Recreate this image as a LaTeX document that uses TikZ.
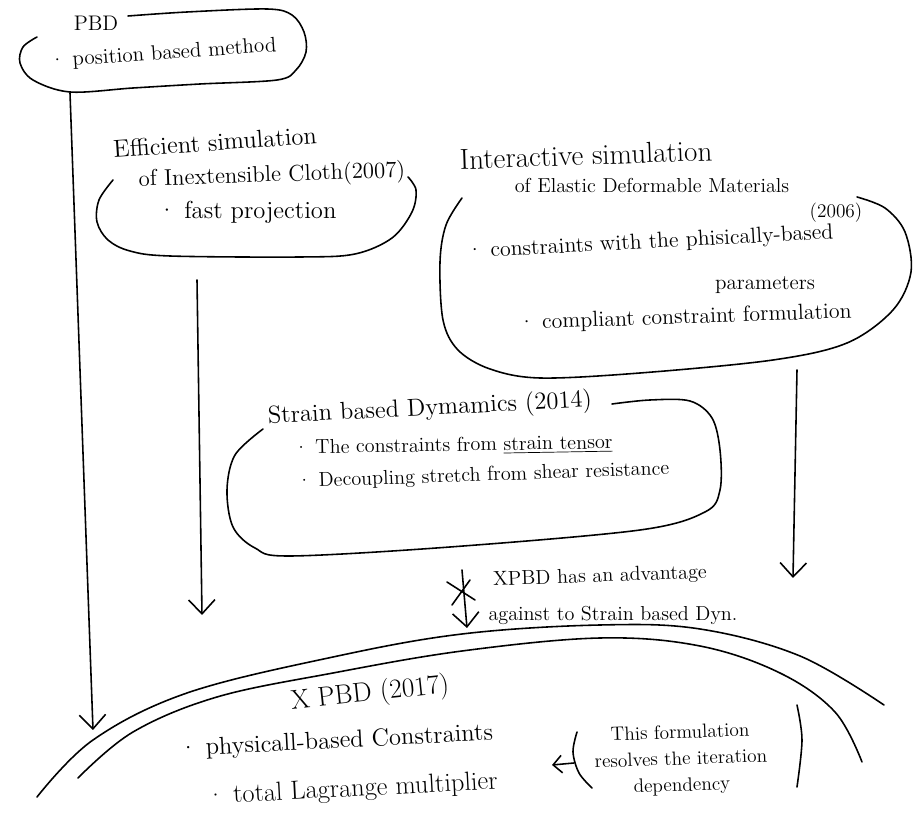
\documentclass[tikz,border=0pt]{standalone}
\usetikzlibrary{arrows.meta}
\begin{document}
\begin{tikzpicture}[x=0.02cm,y=-0.02cm,line width=0.9pt,line cap=round,line join=round,
		blob/.style={smooth,tension=0.55},
		flow/.style={-{Straight Barb[length=8pt,width=15pt]}},
		head/.style={font=\fontsize{14}{17}\selectfont,inner sep=0pt},
		item/.style={font=\fontsize{12}{15}\selectfont,inner sep=0pt},
		memo/.style={font=\fontsize{11}{15}\selectfont,inner sep=0pt,align=center}]
		\useasboundingbox (0,0) rectangle (924,827);
		\draw plot[blob] coordinates {(128,16) (187,12) (267,9) (292,15) (304,32) (306,52) (296,70) (277,80) (200,84) (133,88) (70,92) (33,80) (20,63) (23,47) (37,37)};
		\draw plot[blob] coordinates {(113,180) (99,200) (97,222) (108,240) (130,251) (170,256) (300,257) (355,254) (392,238) (412,212) (416,190) (408,177)};
		\draw plot[blob] coordinates {(462,198) (446,225) (440,262) (443,320) (458,350) (490,369) (540,378) (640,373) (773,360) (847,343) (893,310) (911,272) (905,232) (885,208) (857,197)};
		\draw plot[blob] coordinates {(612,404) (650,400) (690,401) (712,418) (720,450) (720,490) (705,512) (640,530) (450,547) (290,556) (255,548) (233,527) (227,490) (235,455) (263,429)};
		\draw plot[smooth,tension=0.6] coordinates {(37,797) (93,740) (187,693) (333,657) (462,634) (600,625) (700,629) (800,656) (884,705)};
		\draw plot[smooth,tension=0.6] coordinates {(78,778) (133,732) (217,697) (333,673) (462,651) (600,638) (700,646) (780,673) (835,712) (862,762)};
		\draw plot[blob] coordinates {(577,732) (573,752) (579,773) (592,788)};
		\draw plot[blob] coordinates {(797,705) (802,740) (797,787)};
		\coordinate (P1) at (70,93);
		\coordinate (P2) at (93,730);
		\coordinate (C1) at (197,280);
		\coordinate (C2) at (202,615);
		\coordinate (E1) at (797,370);
		\coordinate (E2) at (793,578);
		\coordinate (S1) at (462,570);
		\coordinate (S2) at (467,628);
		\coordinate (N1) at (574,763);
		\coordinate (N2) at (552,765);
		\draw[flow] (P1) -- (P2);
		\draw[flow] (C1) -- (C2);
		\draw[flow] (E1) -- (E2);
		\draw[flow] (S1) -- (S2);
		\draw (447,582) -- (475,600);
		\draw (470,580) -- (452,605);
		\draw[-{Straight Barb[length=5pt,width=10pt]}] (N1) -- (N2);
		\node[item] (pbd) at (96,23) {PBD};
		\node[item,rotate=4] (pbdA) at (163,54) {\textperiodcentered\ position based method};
		\node[head,rotate=4] (clothT) at (215,142) {Efficient simulation};
		\node[item,font=\fontsize{13}{15}\selectfont,rotate=2] (clothS) at (272,176) {of Inextensible Cloth(2007)};
		\node[head] (clothA) at (247,212) {\textperiodcentered\ fast projection};
		\node[head,font=\fontsize{16.5}{19}\selectfont,rotate=2] (elasT) at (586,155) {Interactive simulation};
		\node[item,font=\fontsize{11.5}{14}\selectfont] (elasS) at (652,185) {of Elastic Deformable Materials};
		\node[memo] (elasY) at (836,213) {(2006)};
		\node[item,font=\fontsize{12.5}{15}\selectfont,rotate=3] (elasA) at (650,243) {\textperiodcentered\ constraints with the phisically-based};
		\node[item] (elasB) at (765,285) {parameters};
		\node[item,font=\fontsize{12.5}{15}\selectfont,rotate=2] (elasC) at (685,318) {\textperiodcentered\ compliant constraint formulation};
		\node[head,rotate=3] (strT) at (430,409) {Strain based Dymamics (2014)};
		\node[item,font=\fontsize{11.5}{14}\selectfont,rotate=1] (strA) at (453,446) {\textperiodcentered\ The constraints from \underline{strain tensor}};
		\node[item,font=\fontsize{11.5}{14}\selectfont,rotate=2] (strB) at (483,476) {\textperiodcentered\ Decoupling stretch from shear resistance};
		\node[item,font=\fontsize{11.5}{14}\selectfont,rotate=2] (adv) at (600,577) {XPBD has an advantage};
		\node[item,font=\fontsize{11.5}{14}\selectfont] (advB) at (613,615) {against to Strain based Dyn.};
		\node[head,font=\fontsize{15.5}{18}\selectfont,rotate=6] (xpbd) at (370,694) {X PBD (2017)};
		\node[head,rotate=3] (xpbdA) at (336,742) {\textperiodcentered\ physicall-based Constraints};
		\node[head,font=\fontsize{15}{18}\selectfont,rotate=3] (xpbdB) at (352,790) {\textperiodcentered\ total Lagrange multiplier};
		\node[memo,rotate=2] (memo) at (681,760) {This formulation\\resolves the iteration\\dependency};
	\end{tikzpicture}
\end{document}
